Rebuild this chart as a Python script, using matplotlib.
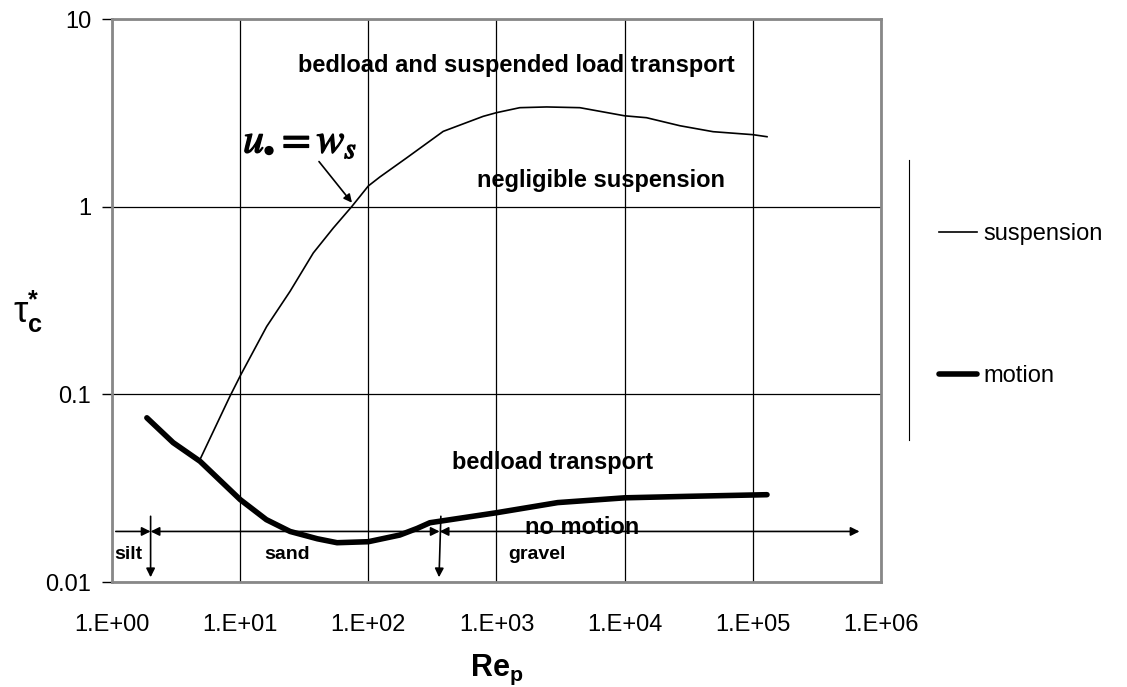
import numpy as np
import matplotlib
matplotlib.use("Agg")
import matplotlib.pyplot as plt
import matplotlib.patheffects as pe
from matplotlib.lines import Line2D

plt.rcParams['font.family'] = ['Liberation Sans', 'DejaVu Sans']
plt.rcParams['mathtext.fontset'] = 'custom'
plt.rcParams['mathtext.rm'] = 'Liberation Sans'
plt.rcParams['mathtext.bf'] = 'Liberation Sans:bold'
plt.rcParams['mathtext.it'] = 'Liberation Sans:italic'

# threshold curves (particle Reynolds number vs critical Shields stress)
re_susp = [4.86, 8.32, 10.1, 16.1, 24.5, 37.2, 53.2, 74.1, 100, 123, 199, 384, 787,
           1000, 1520, 2460, 4470, 10000, 14800, 27000, 49000, 100000, 129000]
tau_susp = [0.045, 0.0977, 0.127, 0.230, 0.354, 0.567, 0.769, 1.0, 1.29, 1.44, 1.82,
            2.52, 3.03, 3.17, 3.37, 3.40, 3.37, 3.05, 2.98, 2.70, 2.51, 2.42, 2.36]

re_motion = [1.87, 3, 4.86, 10, 16, 24.5, 40, 57, 100, 176, 240, 302, 1000, 3000,
             10000, 30000, 129000]
tau_motion = [0.075, 0.0553, 0.044, 0.0275, 0.0215, 0.0186, 0.017, 0.0162,
              0.0164, 0.0178, 0.0193, 0.0207, 0.0234, 0.0265, 0.0281, 0.0286, 0.0292]

# grain size classes along the bottom
class_names = ['silt', 'sand', 'gravel']
class_bounds = [1.07, 2.0, 360, 6.8e5]
class_level = 0.0186

x_ticks = [1e0, 1e1, 1e2, 1e3, 1e4, 1e5, 1e6]
x_labels = ['1.E+00', '1.E+01', '1.E+02', '1.E+03', '1.E+04', '1.E+05', '1.E+06']
y_ticks = [0.01, 0.1, 1, 10]
y_labels = ['0.01', '0.1', '1', '10']

fig = plt.figure(figsize=(11.27, 6.87), dpi=100)
ax = fig.add_axes([0.0994, 0.1528, 0.6823, 0.8195])
ax.set_xscale('log')
ax.set_yscale('log')
ax.set_xlim(1, 1e6)
ax.set_ylim(0.01, 10)

ax.set_xticks(x_ticks)
ax.set_xticklabels(x_labels)
ax.set_yticks(y_ticks)
ax.set_yticklabels(y_labels)
ax.minorticks_off()
ax.tick_params(axis='x', length=0, pad=23, labelsize=17)
ax.tick_params(axis='y', length=7, width=1, pad=8, labelsize=17)
ax.grid(True, color='black', linewidth=0.9)
for s in ax.spines.values():
    s.set_color('#888888')
    s.set_linewidth(2)

ax.plot(re_susp, tau_susp, color='black', linewidth=1.2, label='suspension', zorder=3)
ax.plot(re_motion, tau_motion, color='black', linewidth=4, label='motion',
        solid_capstyle='round', solid_joinstyle='round', zorder=3)

# class arrows
aprops = dict(color='black', linewidth=1.2, shrinkA=0, shrinkB=0, mutation_scale=13)
ax.annotate('', xy=(class_bounds[1], class_level), xytext=(class_bounds[0], class_level),
            arrowprops=dict(arrowstyle='-|>', **aprops))
ax.annotate('', xy=(class_bounds[2], class_level), xytext=(class_bounds[1], class_level),
            arrowprops=dict(arrowstyle='<|-|>', **aprops))
ax.annotate('', xy=(class_bounds[3], class_level), xytext=(class_bounds[2], class_level),
            arrowprops=dict(arrowstyle='<|-|>', **aprops))
ax.annotate('', xy=(2.0, 0.0106), xytext=(2.0, 0.0224),
            arrowprops=dict(arrowstyle='-|>', **aprops))
ax.annotate('', xy=(356, 0.0106), xytext=(368, 0.0224),
            arrowprops=dict(arrowstyle='-|>', **aprops))

for name, xf in zip(class_names, [0.0215, 0.2276, 0.552]):
    ax.text(xf, 0.0497, name, transform=ax.transAxes, ha='center', va='center',
            fontsize=14, fontweight='bold')

ax.text(0.526, 0.918, 'bedload and suspended load transport', transform=ax.transAxes,
        ha='center', va='center', fontsize=17, fontweight='bold')
ax.text(0.636, 0.714, 'negligible suspension', transform=ax.transAxes,
        ha='center', va='center', fontsize=17, fontweight='bold')
ax.text(0.573, 0.213, 'bedload transport', transform=ax.transAxes,
        ha='center', va='center', fontsize=17, fontweight='bold')
ax.text(0.611, 0.0977, 'no motion', transform=ax.transAxes,
        ha='center', va='center', fontsize=17, fontweight='bold')

ax.text(0.2445, 0.782, r'$u_{\bullet} = w_{s}$', transform=ax.transAxes, ha='center',
        va='center', fontsize=30, math_fontfamily='stix',
        path_effects=[pe.withStroke(linewidth=1.0, foreground='black')])
ax.annotate('', xy=(74.5, 1.05), xytext=(41.2, 1.74),
            arrowprops=dict(arrowstyle='-|>', color='black', linewidth=1.2,
                            shrinkA=0, shrinkB=0, mutation_scale=12))

ax.set_xlabel(r'$\mathbf{Re}_\mathbf{p}$', fontsize=22, labelpad=12)
fig.text(0.025, 0.546, r'$\mathrm{τ}_\mathbf{c}^\mathbf{*}$', fontsize=26, ha='center',
         va='center')

fig.legend(loc='center left', bbox_to_anchor=(0.833, 0.556), frameon=False,
           fontsize=17, handlelength=1.6, handletextpad=0.3, labelspacing=5.1,
           borderpad=0, borderaxespad=0)
fig.add_artist(Line2D([0.8066, 0.8066], [0.767, 0.3595], color='black', linewidth=0.8))

fig.savefig('out.png', dpi=100)
